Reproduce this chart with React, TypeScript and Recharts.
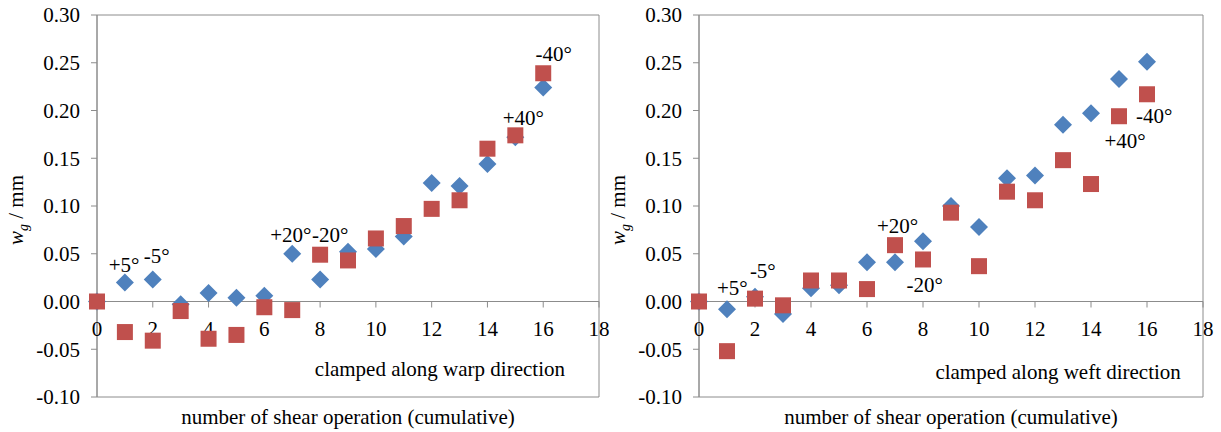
import { ScatterChart, Scatter, XAxis, YAxis, ReferenceArea, ReferenceLine, ReferenceDot, Label } from 'recharts'

const shearSteps = [0, 1, 2, 3, 4, 5, 6, 7, 8, 9, 10, 11, 12, 13, 14, 15, 16]

const warpBlue = [0, 0.02, 0.023, -0.003, 0.009, 0.004, 0.006, 0.05, 0.023, 0.052, 0.055, 0.068, 0.124, 0.121, 0.144, 0.172, 0.224]
const warpRed = [0, -0.032, -0.041, -0.01, -0.039, -0.035, -0.006, -0.009, 0.049, 0.043, 0.066, 0.079, 0.097, 0.106, 0.16, 0.174, 0.239]
const weftBlue = [0, -0.008, 0.005, -0.013, 0.014, 0.017, 0.041, 0.041, 0.063, 0.1, 0.078, 0.129, 0.132, 0.185, 0.197, 0.233, 0.251]
const weftRed = [0, -0.052, 0.003, -0.004, 0.022, 0.022, 0.013, 0.059, 0.044, 0.093, 0.037, 0.115, 0.106, 0.148, 0.123, 0.194, 0.217]

const xTicks = [0, 2, 4, 6, 8, 10, 12, 14, 16, 18]
const yTicks = [-0.1, -0.05, 0, 0.05, 0.1, 0.15, 0.2, 0.25, 0.3]

// angle notes, placed at the centre of each text in data units
const warpNotes = [
  { x: 0.97, y: 0.039, text: '+5°' },
  { x: 2.14, y: 0.048, text: '-5°' },
  { x: 6.95, y: 0.0705, text: '+20°' },
  { x: 8.36, y: 0.0705, text: '-20°' },
  { x: 15.29, y: 0.192, text: '+40°' },
  { x: 16.38, y: 0.26, text: '-40°' },
]
const weftNotes = [
  { x: 1.19, y: 0.014, text: '+5°' },
  { x: 2.28, y: 0.032, text: '-5°' },
  { x: 7.09, y: 0.079, text: '+20°' },
  { x: 8.06, y: 0.018, text: '-20°' },
  { x: 15.22, y: 0.168, text: '+40°' },
  { x: 16.26, y: 0.195, text: '-40°' },
]

const axisGray = '#8c8c8c'
const blue = '#4f81bd'
const red = '#c0504d'
const serif = 'Liberation Serif'
const fontSize = 21

function Diamond({ cx, cy }: any) {
  const h = 9
  return <polygon points={`${cx},${cy - h} ${cx + h},${cy} ${cx},${cy + h} ${cx - h},${cy}`} fill={blue} />
}

function Square({ cx, cy }: any) {
  const h = 8
  return <rect x={cx - h} y={cy - h} width={h * 2} height={h * 2} fill={red} />
}

function YTitle({ viewBox }: any) {
  const bx = viewBox.x + viewBox.width - 74
  const cy = viewBox.y + viewBox.height / 2 + 4
  return (
    <text
      x={bx}
      y={cy}
      transform={`rotate(-90 ${bx} ${cy})`}
      textAnchor="middle"
      fontFamily={serif}
      fontSize={fontSize}
      fill="#000"
    >
      <tspan fontStyle="italic">w</tspan>
      <tspan fontStyle="italic" fontSize={14} dy={5}>g</tspan>
      <tspan dy={-5}> / mm</tspan>
    </text>
  )
}

function XTitle({ viewBox }: any) {
  return (
    <text
      x={viewBox.x + viewBox.width / 2}
      y={viewBox.y + 27}
      textAnchor="middle"
      fontFamily={serif}
      fontSize={fontSize}
      fill="#000"
    >
      number of shear operation (cumulative)
    </text>
  )
}

interface PanelProps {
  blueValues: number[]
  redValues: number[]
  notes: { x: number; y: number; text: string }[]
  caption: string
  captionAt: { x: number; y: number }
  width: number
  rightGap: number
}

function Panel({ blueValues, redValues, notes, caption, captionAt, width, rightGap }: PanelProps) {
  const blueRows = shearSteps.map((x, i) => ({ x, y: blueValues[i] }))
  const redRows = shearSteps.map((x, i) => ({ x, y: redValues[i] }))

  return (
    <ScatterChart width={width} height={432} margin={{ top: 15, right: rightGap, bottom: 0, left: 0 }}>
      <XAxis
        type="number"
        dataKey="x"
        domain={[0, 18]}
        ticks={xTicks}
        tick={false}
        tickLine={false}
        axisLine={false}
        height={35}
        label={<Label content={XTitle} />}
      />
      <YAxis
        type="number"
        dataKey="y"
        domain={[-0.1, 0.3]}
        ticks={yTicks}
        width={97}
        tickFormatter={(v: number) => v.toFixed(2)}
        tick={{ fill: '#000', fontSize, fontFamily: serif }}
        tickSize={6}
        tickMargin={11}
        tickLine={{ stroke: axisGray }}
        axisLine={{ stroke: axisGray }}
        label={<Label content={YTitle} />}
      />
      <ReferenceArea x1={0} x2={18} y1={-0.1} y2={0.3} fill="none" stroke={axisGray} strokeWidth={1} />
      <ReferenceLine y={0} stroke={axisGray} strokeWidth={1} />
      {xTicks.map((t) => (
        <ReferenceDot
          key={`tick-${t}`}
          x={t}
          y={0}
          r={0}
          ifOverflow="visible"
          shape={(p: any) => (
            <g>
              <line x1={p.cx} y1={p.cy} x2={p.cx} y2={p.cy + 6} stroke={axisGray} />
              <text x={p.cx} y={p.cy + 34} textAnchor="middle" fontFamily={serif} fontSize={fontSize} fill="#000">
                {t}
              </text>
            </g>
          )}
        />
      ))}
      <Scatter data={blueRows} isAnimationActive={false} shape={(p: any) => <Diamond cx={p.cx} cy={p.cy} />} />
      <Scatter data={redRows} isAnimationActive={false} shape={(p: any) => <Square cx={p.cx} cy={p.cy} />} />
      {notes.map((n) => (
        <ReferenceDot
          key={n.text}
          x={n.x}
          y={n.y}
          r={0}
          ifOverflow="visible"
          shape={(p: any) => (
            <text
              x={p.cx}
              y={p.cy}
              dy="0.35em"
              textAnchor="middle"
              fontFamily={serif}
              fontSize={fontSize}
              fill="#000"
            >
              {n.text}
            </text>
          )}
        />
      ))}
      <ReferenceDot
        x={captionAt.x}
        y={captionAt.y}
        r={0}
        ifOverflow="visible"
        shape={(p: any) => (
          <text x={p.cx} y={p.cy} textAnchor="end" fontFamily={serif} fontSize={fontSize} fill="#000">
            {caption}
          </text>
        )}
      />
    </ScatterChart>
  )
}

export default function App() {
  return (
    <div style={{ position: 'absolute', left: 0, top: 0, width: 1221, height: 432, background: '#fff' }}>
      <div style={{ position: 'absolute', left: 0, top: 0 }}>
        <Panel
          blueValues={warpBlue}
          redValues={warpRed}
          notes={warpNotes}
          caption="clamped along warp direction"
          captionAt={{ x: 16.78, y: -0.078 }}
          width={610}
          rightGap={11}
        />
      </div>
      <div style={{ position: 'absolute', left: 602, top: 0 }}>
        <Panel
          blueValues={weftBlue}
          redValues={weftRed}
          notes={weftNotes}
          caption="clamped along weft direction"
          captionAt={{ x: 17.21, y: -0.081 }}
          width={619}
          rightGap={18}
        />
      </div>
    </div>
  )
}
